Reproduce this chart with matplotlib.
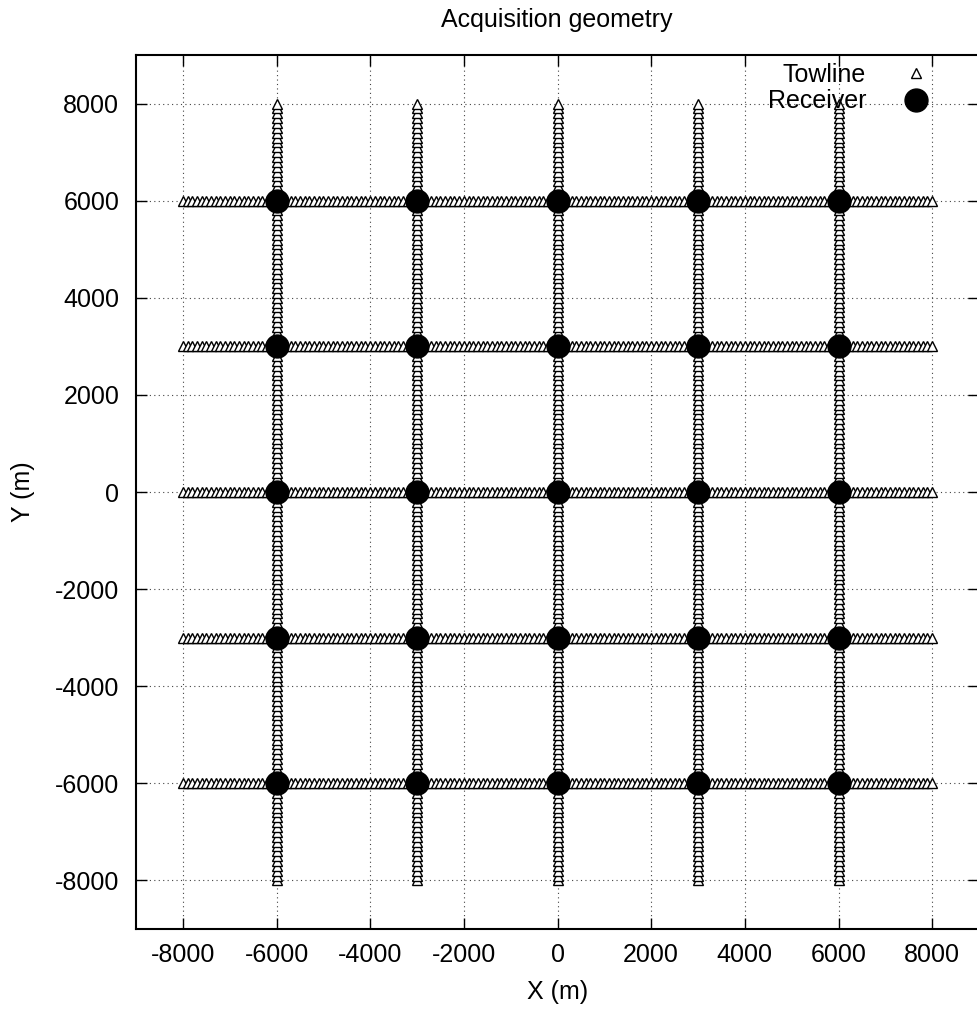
import numpy as np
import matplotlib.pyplot as plt

plt.rcParams['font.family'] = ['Liberation Sans', 'DejaVu Sans']
plt.rcParams['axes.unicode_minus'] = False

# =====================================================
# DATA
# =====================================================

# towlines: east-west lines at these y, north-south lines at these x
towline_y = [-6000, -3000, 0, 3000, 6000]
towline_x = [-6000, -3000, 0, 3000, 6000]
line_start = -8000
line_end = 8000
shot_step = 100

# receivers sit on the crossings
receiver_x = [-6000, -3000, 0, 3000, 6000]
receiver_y = [-6000, -3000, 0, 3000, 6000]

ticks = [-8000, -6000, -4000, -2000, 0, 2000, 4000, 6000, 8000]

# =====================================================
# BUILD POINTS
# =====================================================

shots = np.arange(line_start, line_end + shot_step, shot_step)

tx = []
ty = []
for y0 in towline_y:
    tx.extend(shots)
    ty.extend([y0] * len(shots))
for x0 in towline_x:
    tx.extend([x0] * len(shots))
    ty.extend(shots)

rx, ry = np.meshgrid(receiver_x, receiver_y)

# =====================================================
# PLOT
# =====================================================

W, H = 977, 1009

fig = plt.figure(figsize=(W / 100, H / 100), dpi=100)
ax = fig.add_axes([136 / W, 80 / H, 843 / W, 874 / H])

ax.plot(
    tx, ty,
    linestyle='none',
    marker='^',
    markersize=7,
    markerfacecolor='white',
    markeredgecolor='black',
    markeredgewidth=1.0,
    label='Towline'
)

ax.plot(
    rx.ravel(), ry.ravel(),
    linestyle='none',
    marker='o',
    markersize=16.5,
    color='black',
    label='Receiver'
)

ax.set_xlim(-9000, 9000)
ax.set_ylim(-9000, 9000)
ax.set_xticks(ticks)
ax.set_yticks(ticks)

ax.grid(True, linestyle=(0, (1, 3)), color='#444444', linewidth=0.8)
ax.set_axisbelow(True)

ax.tick_params(
    direction='in',
    top=True,
    right=True,
    length=8,
    width=1,
    labelsize=18,
)
ax.tick_params(axis='y', pad=12)
ax.tick_params(axis='x', pad=10)
for s in ax.spines.values():
    s.set_linewidth(1.5)

ax.set_xlabel('X (m)', fontsize=18)
ax.xaxis.label.set_va('center')
ax.xaxis.set_label_coords(0.5, -(992 - 929) / 874)

ax.set_ylabel('Y (m)', fontsize=18)
ax.yaxis.label.set_va('center')
ax.yaxis.set_label_coords(-(136 - 23) / 843, 0.5)

fig.text(557 / W, 1 - 20 / H, 'Acquisition geometry',
         fontsize=18, ha='center', va='center')

ax.legend(
    loc='upper right',
    bbox_to_anchor=(941 / W, 1 - 63 / H),
    bbox_transform=fig.transFigure,
    frameon=False,
    markerfirst=False,
    fontsize=18,
    handlelength=2,
    handletextpad=1.0,
    labelspacing=0.1,
    borderaxespad=0,
    borderpad=0
)

fig.savefig('out.png', dpi=100)
